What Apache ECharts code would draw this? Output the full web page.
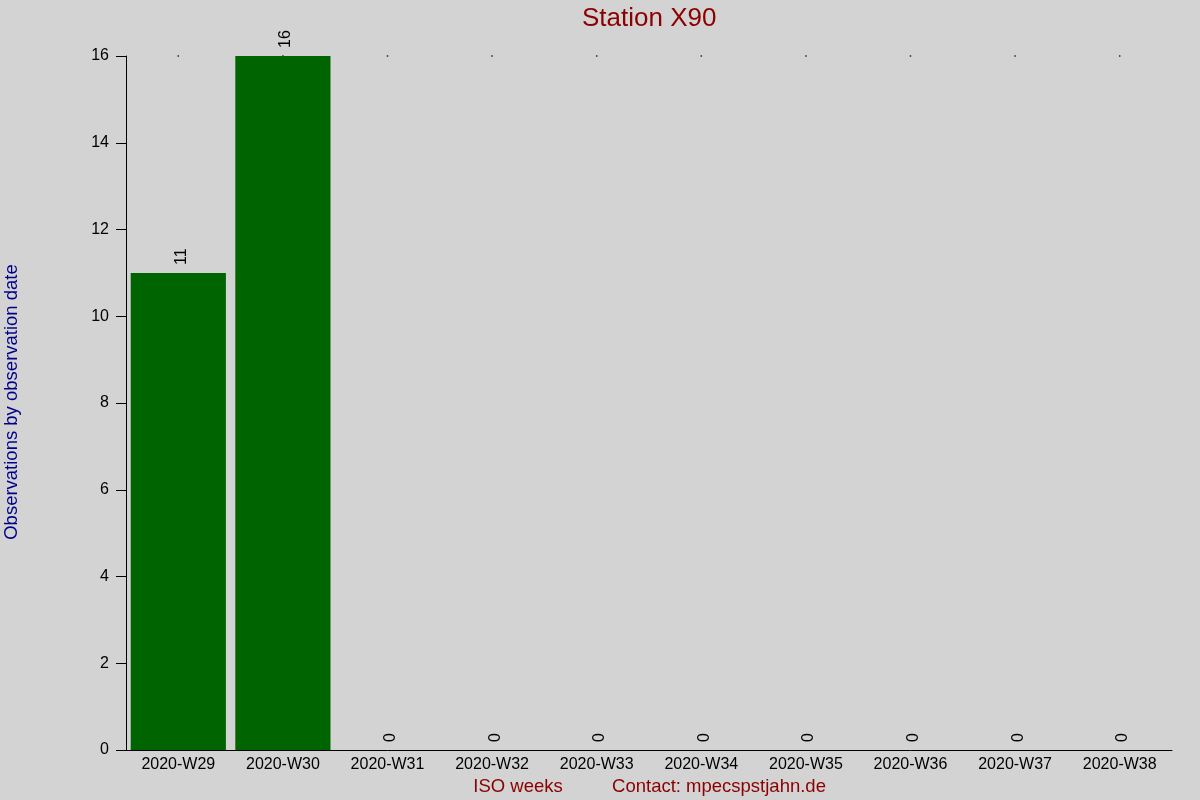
<!DOCTYPE html>
<html>
<head>
<meta charset="utf-8">
<script src="https://cdn.jsdelivr.net/npm/echarts@6/dist/echarts.min.js"></script>
<style>
  html, body { margin: 0; padding: 0; background: #d3d3d3; }
  #chart { width: 1200px; height: 800px; }
</style>
</head>
<body>
<div id="chart"></div>
<script>
const weeks = ['2020-W29', '2020-W30', '2020-W31', '2020-W32', '2020-W33',
               '2020-W34', '2020-W35', '2020-W36', '2020-W37', '2020-W38'];
const observations = [11, 16, 0, 0, 0, 0, 0, 0, 0, 0];
// small dots drawn at the top edge of the plot
const topDots = [16, 16, 16, 16, 16, 16, 16, 16, 16, 16];
const yTicks = { min: 0, max: 16, interval: 2 };

const FONT = 'Liberation Sans, Arial, sans-serif';
const RED = '#8b0000';

const chart = echarts.init(document.getElementById('chart'));

chart.setOption({
  backgroundColor: '#d3d3d3',
  animation: false,
  textStyle: { fontFamily: FONT },

  title: {
    text: 'Station X90',
    left: 582,
    top: 6,
    padding: 0,
    textStyle: { color: RED, fontSize: 26, fontWeight: 'normal', fontFamily: FONT }
  },

  grid: { left: 126, right: 28, top: 56, bottom: 50 },

  xAxis: {
    type: 'category',
    data: weeks,
    axisLine: { lineStyle: { color: '#000', width: 1 } },
    axisTick: { show: false },
    axisLabel: { color: '#000', fontSize: 16, margin: 7, fontFamily: FONT }
  },

  yAxis: {
    type: 'value',
    min: yTicks.min,
    max: yTicks.max,
    interval: yTicks.interval,
    axisLine: { show: true, lineStyle: { color: '#000', width: 1 } },
    axisTick: { show: true, length: 10, lineStyle: { color: '#000' } },
    axisLabel: { color: '#000', fontSize: 16, margin: 17, padding: [3, 0, 0, 0], fontFamily: FONT },
    splitLine: { show: false }
  },

  graphic: [
    {
      type: 'text',
      x: 12,
      y: 402,
      rotation: Math.PI / 2,
      style: {
        text: 'Observations by observation date',
        fill: '#00008b',
        font: '18.5px ' + FONT,
        textAlign: 'center',
        textVerticalAlign: 'middle'
      }
    },
    {
      type: 'text',
      x: 518,
      y: 787,
      style: {
        text: 'ISO weeks',
        fill: RED,
        font: '18.5px ' + FONT,
        textAlign: 'center',
        textVerticalAlign: 'middle'
      }
    },
    {
      type: 'text',
      x: 719,
      y: 787,
      style: {
        text: 'Contact: mpecspstjahn.de',
        fill: RED,
        font: '18.5px ' + FONT,
        textAlign: 'center',
        textVerticalAlign: 'middle'
      }
    }
  ],

  series: [
    {
      type: 'scatter',
      data: topDots,
      symbol: 'rect',
      symbolSize: 1.5,
      itemStyle: { color: '#000' },
      z: 1
    },
    {
      type: 'bar',
      data: observations,
      barWidth: '91%',
      itemStyle: { color: '#006400' },
      z: 2,
      label: {
        show: true,
        position: 'top',
        distance: 8,
        rotate: 90,
        align: 'left',
        verticalAlign: 'middle',
        offset: [0, 3],
        color: '#000',
        fontSize: 16,
        fontFamily: FONT
      }
    }
  ]
});
</script>
</body>
</html>
